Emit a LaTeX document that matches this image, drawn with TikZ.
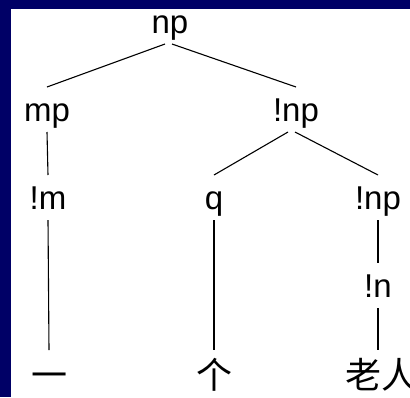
\documentclass[tikz,border=0pt]{standalone}
\usepackage{fontspec}
\setmainfont{Liberation Sans}
\newfontfamily\cjk{Noto Sans CJK SC}
\definecolor{slideblue}{RGB}{0,0,102}
\begin{document}
\begin{tikzpicture}[x=1pt, y=-1pt,
  cat/.style={inner sep=0, outer sep=0, anchor=base, text height=34pt, text depth=11pt, font=\fontsize{33}{40}\selectfont},
  word/.style={cat, text height=38pt, text depth=4pt, font=\cjk\fontsize{36}{40}\selectfont},
  branch/.style={line width=1.1pt}
]
\fill[slideblue] (0,0) rectangle (410,397);
\fill[white] (11,9) rectangle (410,397);
\useasboundingbox (0,0) rectangle (410,397);
% categories
\node[cat] (np) at (170,33) {np};
\node[cat] (mp) at (47,121) {mp};
\node[cat] (inp) at (296,121) {!np};
\node[cat] (im) at (48,209) {!m};
\node[cat] (q) at (214,209) {q};
\node[cat] (inp2) at (378,209) {!np};
\node[cat] (in) at (378,297) {!n};
% words
\node[word] (yi) at (49,388) {一};
\node[word] (ge) at (214,388) {个};
\node[word] (laoren) at (381,388) {老人};
% branches
\draw[branch] ([xshift=-5pt]np.south) -- (mp.north);
\draw[branch] ([xshift=2pt]np.south) -- (inp.north);
\draw[branch] (mp.south) -- (im.north);
\draw[branch] ([xshift=-8pt]inp.south) -- (q.north);
\draw[branch] ([xshift=-1pt]inp.south) -- (inp2.north);
\draw[branch] (im.south) -- (yi.north);
\draw[branch] (q.south) -- (ge.north);
\draw[branch] (inp2.south) -- (in.north);
\draw[branch] (in.south) -- (laoren.north -| in.south);
\end{tikzpicture}
\end{document}
